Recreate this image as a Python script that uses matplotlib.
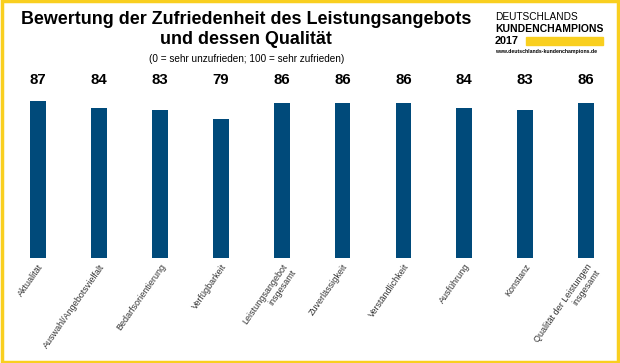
import matplotlib.pyplot as plt
from matplotlib.patches import Rectangle

plt.rcParams['font.family'] = ['Liberation Sans', 'DejaVu Sans']

kategorien = ["Aktualität", "Auswahl/Angebotsvielfalt", "Bedarfsorientierung",
              "Verfügbarkeit", "Leistungsangebot\ninsgesamt", "Zuverlässigkeit",
              "Verständlichkeit", "Ausführung", "Konstanz",
              "Qualität der Leistungen\ninsgesamt"]
werte = [87, 84, 83, 79, 86, 86, 86, 84, 83, 86]

blau = "#004a7a"
gelb = "#f9cf1f"

fig = plt.figure(figsize=(6.2, 3.63), dpi=100)
ax = fig.add_axes([7.6 / 620, 1 - 258 / 363, 609 / 620, (258 - 72) / 363])

x = range(len(werte))
ax.bar(x, werte, width=0.26, color=blau)
for xi, v in zip(x, werte):
    ax.text(xi, 96.3, str(v), ha='center', va='center',
            fontsize=10.8, fontweight='bold', color='black')

ax.set_xlim(-0.5, 9.5)
ax.set_ylim(17.2, 100)
ax.set_xticks(list(x))
ax.set_xticklabels(kategorien, rotation=55, ha='right', rotation_mode='anchor',
                   fontsize=6.5, color='#333333')
ax.tick_params(axis='x', length=0, pad=3)
ax.set_yticks([])
for s in ax.spines.values():
    s.set_visible(False)

# Titel
fig.text(0.397, 1 - 20 / 363, "Bewertung der Zufriedenheit des Leistungsangebots",
         ha='center', va='center', fontsize=12.9, fontweight='bold')
fig.text(0.397, 1 - 40 / 363, "und dessen Qualität",
         ha='center', va='center', fontsize=12.9, fontweight='bold')
fig.text(0.397, 1 - 59 / 363, "(0 = sehr unzufrieden; 100 = sehr zufrieden)",
         ha='center', va='center', fontsize=7.2)

# Logo
lx = 495 / 620
fig.text(lx, 1 - 17 / 363, "DEUTSCHLANDS", ha='left', va='center', fontsize=7.3)
fig.text(lx, 1 - 29 / 363, "KUNDENCHAMPIONS", ha='left', va='center',
         fontsize=7.5, fontweight='bold')
fig.text(lx, 1 - 41 / 363, "2017", ha='left', va='center', fontsize=7.8, fontweight='bold')
fig.patches.append(Rectangle((526 / 620, 1 - 45 / 363), 77 / 620, 8 / 363,
                             transform=fig.transFigure, color=gelb))
fig.text(lx, 1 - 51 / 363, "www.deutschlands-kundenchampions.de", ha='left',
         va='center', fontsize=3.7, fontweight='bold')

# Rahmen
fig.patches.append(Rectangle((0.003, 0.004), 0.994, 0.992, transform=fig.transFigure,
                             fill=False, edgecolor=gelb, linewidth=2.5))

fig.savefig("out.png", dpi=100)
